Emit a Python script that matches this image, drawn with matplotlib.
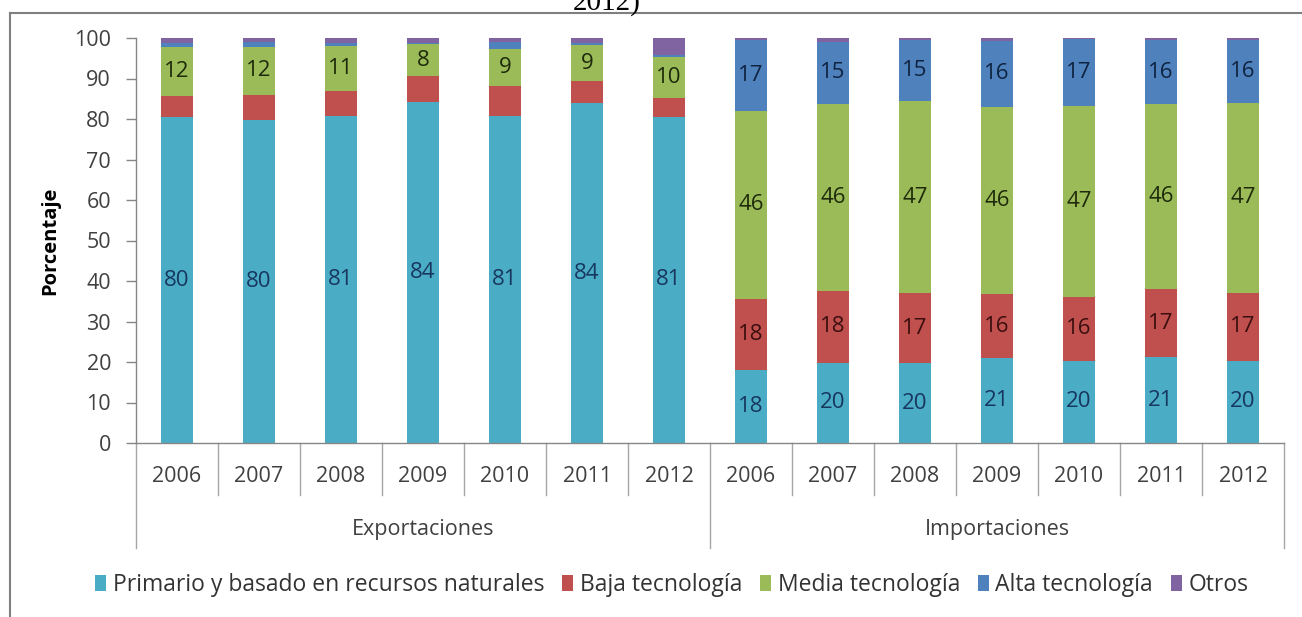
import matplotlib
matplotlib.use("Agg")
import matplotlib.pyplot as plt
from matplotlib.lines import Line2D
from matplotlib.patches import Patch
import numpy as np

plt.rcParams['font.family'] = ['Open Sans', 'DejaVu Sans']

years = ["2006", "2007", "2008", "2009", "2010", "2011", "2012"]
groups = ["Exportaciones", "Importaciones"]
series_names = ["Primario y basado en recursos naturales", "Baja tecnología",
                "Media tecnología", "Alta tecnología", "Otros"]
colors = ["#4BACC6", "#C0504D", "#9BBB59", "#4F81BD", "#8064A2"]
label_colors = ["#17375E", "#3B0F0F", "#1E2A0A", "#0F2440", "#2A1A3A"]

# Exportaciones 2006-2012, then Importaciones 2006-2012
primario = [80.4, 79.7, 80.8, 84.2, 80.8, 83.9, 80.6,
            18.0, 19.8, 19.7, 20.9, 20.3, 21.2, 20.3]
baja = [5.3, 6.2, 6.2, 6.4, 7.4, 5.5, 4.7,
        17.6, 17.7, 17.3, 15.8, 15.7, 16.8, 16.8]
media = [12.1, 12.0, 11.0, 7.8, 9.2, 8.8, 10.1,
         46.4, 46.3, 47.4, 46.3, 47.1, 45.6, 46.9]
alta = [1.0, 1.2, 0.8, 0.4, 1.5, 0.6, 0.5,
        17.4, 15.3, 15.1, 16.3, 16.6, 16.0, 15.6]
otros = [1.2, 0.9, 1.2, 1.2, 1.3, 1.2, 4.1,
         0.6, 0.9, 0.5, 0.7, 0.3, 0.4, 0.4]

W, H = 1302, 617
fig = plt.figure(figsize=(W / 100, H / 100), dpi=100)

def fx(px):
    return px / W

def fy(py):
    return 1 - py / H

ax_left, ax_right, ax_top, ax_bot = 136, 1284, 38, 443
ax = fig.add_axes([fx(ax_left), fy(ax_bot), fx(ax_right - ax_left), (ax_bot - ax_top) / H])

data = [primario, baja, media, alta, otros]
n = len(primario)
x = np.arange(n)
bottom = np.zeros(n)
for vals, col, lcol in zip(data, colors, label_colors):
    vals = np.array(vals)
    ax.bar(x, vals, width=0.39, bottom=bottom, color=col, edgecolor='none', zorder=2)
    for xi, v, b in zip(x, vals, bottom):
        if v >= 7.5:
            ax.text(xi, b + v / 2, f"{v:.0f}", ha='center', va='center',
                    fontsize=16, color=lcol, zorder=3)
    bottom += vals

ax.set_xlim(-0.5, n - 0.5)
ax.set_ylim(0, 100)
ax.set_yticks(np.arange(0, 101, 10))
ax.tick_params(axis='y', direction='out', length=7, width=1, color='#868686',
               labelsize=15.5, labelcolor='#404040', pad=11)
ax.set_xticks([])
for s in ['top', 'right']:
    ax.spines[s].set_visible(False)
for s in ['left', 'bottom']:
    ax.spines[s].set_color('#868686')
    ax.spines[s].set_linewidth(1)

ax.set_ylabel("Porcentaje", fontsize=14.5, fontweight='bold', color='#000000', labelpad=10)

# category axis: year labels, separators, group labels
axh = ax_bot - ax_top
trans = ax.get_xaxis_transform()
for i in range(n):
    ax.text(x[i], -34 / axh, years[i % len(years)], transform=trans, ha='center',
            va='center', fontsize=15.5, color='#404040', clip_on=False)
bounds = np.arange(n + 1) - 0.5
for i, b in enumerate(bounds):
    long = (i % len(years) == 0)
    y2 = -105 / axh if long else -52 / axh
    ax.add_line(Line2D([b, b], [0, y2], transform=trans, color='#A6A6A6', lw=1,
                       clip_on=False))
for g, name in enumerate(groups):
    cx = g * len(years) + (len(years) - 1) / 2
    ax.text(cx, -87 / axh, name, transform=trans, ha='center', va='center',
            fontsize=15.5, color='#404040', clip_on=False)

# legend
handles = [Patch(facecolor=c, edgecolor='none') for c in colors]
fig.legend(handles, series_names, loc='center', bbox_to_anchor=(fx(672), fy(585)),
           ncol=5, frameon=False, fontsize=16.5, handlelength=0.45, handleheight=0.75,
           handletextpad=0.3, columnspacing=0.8, labelcolor='#333333')

# outer frame (chart area border)
fig.add_artist(Line2D([fx(10), fx(W)], [fy(13), fy(13)], transform=fig.transFigure,
                      color='#7F7F7F', lw=1.5))
fig.add_artist(Line2D([fx(10), fx(10)], [fy(13), 0], transform=fig.transFigure,
                      color='#7F7F7F', lw=1.5))

# cut-off title fragment
fig.text(fx(607), fy(10), "2012)", ha='center', va='baseline', fontsize=21,
         family='Liberation Serif', color='#000000')

fig.savefig("out.png", dpi=100)
